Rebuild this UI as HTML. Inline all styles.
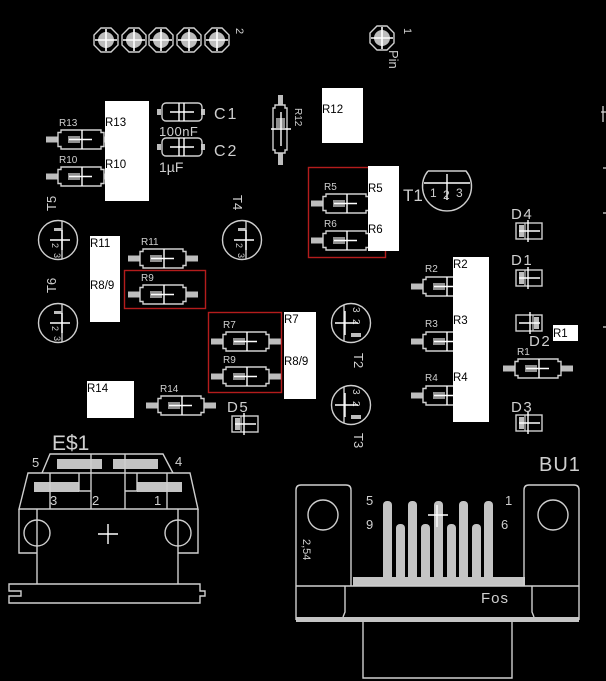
<!DOCTYPE html>
<html><head><meta charset="utf-8"><style>
html,body{margin:0;padding:0;background:#000;}
svg{display:block;}
text{font-family:"Liberation Sans",sans-serif;}
</style></head><body>
<svg width="606" height="681" viewBox="0 0 606 681" xmlns="http://www.w3.org/2000/svg">
<rect width="606" height="681" fill="#000"/>
<defs>
 <g id="res">
  <rect x="-12" y="6.5" width="12" height="6" fill="#bdbdbd"/>
  <rect x="46" y="6.5" width="12" height="6" fill="#bdbdbd"/>
  <path d="M0,2.5h3v-2.5h40v2.5h3v14h-3v2.5h-40v-2.5h-3z" fill="none" stroke="#cfcfcf" stroke-width="1.4"/>
  <rect x="10" y="6" width="12" height="7" fill="#8f8f8f"/>
  <line x1="11" y1="9.5" x2="34" y2="9.5" stroke="#fff" stroke-width="1.4"/>
  <line x1="24" y1="0" x2="24" y2="19" stroke="#fff" stroke-width="1.4"/>
 </g>
 <g id="diodeL">
  <rect x="0" y="0" width="26" height="16" fill="none" stroke="#cfcfcf" stroke-width="1.4"/>
  <rect x="3" y="2" width="5" height="12" fill="#bdbdbd"/>
  <line x1="9" y1="0" x2="9" y2="16" stroke="#cfcfcf" stroke-width="1.2"/>
  <line x1="3" y1="8" x2="24" y2="8" stroke="#fff" stroke-width="1.4"/>
  <line x1="12" y1="-3" x2="12" y2="19" stroke="#fff" stroke-width="1.4"/>
 </g>
 <g id="diodeR">
  <rect x="0" y="0" width="26" height="16" fill="none" stroke="#cfcfcf" stroke-width="1.4"/>
  <rect x="18" y="2" width="5" height="12" fill="#bdbdbd"/>
  <line x1="17" y1="0" x2="17" y2="16" stroke="#cfcfcf" stroke-width="1.2"/>
  <line x1="3" y1="8" x2="24" y2="8" stroke="#fff" stroke-width="1.4"/>
  <line x1="14" y1="-3" x2="14" y2="19" stroke="#fff" stroke-width="1.4"/>
 </g>
 <g id="trL">
  <circle cx="0" cy="0" r="19.5" fill="none" stroke="#cfcfcf" stroke-width="1.4"/>
  <line x1="4" y1="-19" x2="4" y2="19" stroke="#cfcfcf" stroke-width="1.4"/>
  <rect x="-4" y="-12" width="8" height="3" fill="#bdbdbd"/>
  <text x="-6" y="3" font-size="9" fill="#cfcfcf" transform="rotate(90 -6 3)">2</text>
  <text x="-4" y="13" font-size="9" fill="#cfcfcf" transform="rotate(90 -4 13)">3</text>
  <line x1="-8" y1="0" x2="12" y2="0" stroke="#fff" stroke-width="1.4"/>
  <line x1="4" y1="-10" x2="4" y2="10" stroke="#fff" stroke-width="1.4"/>
 </g>
 <g id="trR">
  <circle cx="0" cy="0" r="19.5" fill="none" stroke="#cfcfcf" stroke-width="1.4"/>
  <line x1="-7" y1="-18" x2="-7" y2="18" stroke="#cfcfcf" stroke-width="1.4"/>
  <text x="2" y="-16" font-size="10" fill="#cfcfcf" transform="rotate(90 2 -16)">3</text>
  <text x="2" y="-4" font-size="10" fill="#cfcfcf" transform="rotate(90 2 -4)">2</text>
  <rect x="0" y="10" width="10" height="4" fill="#bdbdbd"/>
  <line x1="-16" y1="0" x2="7" y2="0" stroke="#fff" stroke-width="1.4"/>
  <line x1="-6" y1="-12" x2="-6" y2="12" stroke="#fff" stroke-width="1.4"/>
 </g>
 <g id="pad">
  <polygon points="12,5 5,12 -5,12 -12,5 -12,-5 -5,-12 5,-12 12,-5" fill="none" stroke="#d0d0d0" stroke-width="1.4"/>
  <circle cx="0" cy="0" r="8" fill="#bdbdbd"/>
  <line x1="-11" y1="0" x2="11" y2="0" stroke="#fff" stroke-width="1.6"/>
  <line x1="0" y1="-11" x2="0" y2="11" stroke="#fff" stroke-width="1.6"/>
 </g>
 <g id="cap">
  <rect x="-5" y="-3" width="4" height="6" fill="#bdbdbd"/>
  <rect x="39" y="-3" width="4" height="6" fill="#bdbdbd"/>
  <rect x="0" y="-9" width="40" height="18" rx="4" fill="none" stroke="#cfcfcf" stroke-width="1.4"/>
  <line x1="8" y1="0" x2="32" y2="0" stroke="#fff" stroke-width="1.4"/>
  <line x1="17" y1="-9" x2="17" y2="9" stroke="#fff" stroke-width="1.4"/>
  <line x1="22" y1="-9" x2="22" y2="9" stroke="#fff" stroke-width="1.4"/>
 </g>
</defs>

<!-- top connector -->
<use href="#pad" x="106" y="40"/>
<use href="#pad" x="134" y="40"/>
<use href="#pad" x="161" y="40"/>
<use href="#pad" x="189" y="40"/>
<use href="#pad" x="217" y="40"/>
<text x="236" y="28" font-size="11" fill="#cfcfcf" transform="rotate(90 236 28)">2</text>

<!-- Pin 1 -->
<use href="#pad" x="382" y="38"/>
<text x="404" y="28" font-size="11" fill="#cfcfcf" transform="rotate(90 404 28)">1</text>
<text x="389" y="50" font-size="13" fill="#cfcfcf" transform="rotate(90 389 50)">Pin</text>

<!-- capacitors -->
<use href="#cap" x="162" y="112"/>
<use href="#cap" x="162" y="147"/>
<text x="214" y="119" font-size="16" fill="#cfcfcf" letter-spacing="2">C1</text>
<text x="214" y="156" font-size="16" fill="#cfcfcf" letter-spacing="2">C2</text>
<text x="159" y="136" font-size="13" fill="#cfcfcf" letter-spacing="0.5">100nF</text>
<text x="159" y="172" font-size="14" fill="#cfcfcf">1µF</text>

<!-- R12 vertical -->
<rect x="278" y="95" width="5" height="10" fill="#bdbdbd"/>
<rect x="278" y="153" width="5" height="12" fill="#bdbdbd"/>
<path d="M275,105h10v3h2v42h-2v3h-10v-3h-2v-42h2z" fill="none" stroke="#cfcfcf" stroke-width="1.4"/>
<rect x="276" y="118" width="9" height="10" fill="#8f8f8f"/>
<line x1="271" y1="129" x2="291" y2="129" stroke="#fff" stroke-width="1.4"/>
<line x1="281" y1="112" x2="281" y2="146" stroke="#fff" stroke-width="1.4"/>
<text x="295" y="108" font-size="10" fill="#cfcfcf" transform="rotate(90 295 108)">R12</text>

<!-- resistors -->
<use href="#res" x="58" y="130"/>
<use href="#res" x="58" y="167"/>
<use href="#res" x="140" y="249"/>
<use href="#res" x="140" y="285"/>
<use href="#res" x="223" y="332"/>
<use href="#res" x="223" y="367"/>
<use href="#res" x="158" y="396"/>
<use href="#res" x="323" y="194"/>
<use href="#res" x="323" y="231"/>
<use href="#res" x="423" y="277"/>
<use href="#res" x="423" y="332"/>
<use href="#res" x="423" y="386"/>
<use href="#res" x="515" y="359"/>

<g font-size="10" fill="#cfcfcf">
<text x="59" y="126">R13</text>
<text x="59" y="163">R10</text>
<text x="141" y="245">R11</text>
<text x="141" y="281">R9</text>
<text x="223" y="328">R7</text>
<text x="223" y="363">R9</text>
<text x="160" y="392">R14</text>
<text x="324" y="190">R5</text>
<text x="324" y="227">R6</text>
<text x="425" y="272">R2</text>
<text x="425" y="327">R3</text>
<text x="425" y="381">R4</text>
<text x="517" y="355">R1</text>
</g>

<!-- transistors -->
<use href="#trL" x="58" y="240"/>
<use href="#trL" x="58" y="323"/>
<use href="#trL" x="242" y="240"/>
<use href="#trR" x="351" y="323"/>
<use href="#trR" x="351" y="405"/>
<text x="56" y="211" font-size="13" fill="#cfcfcf" transform="rotate(-90 56 211)">T5</text>
<text x="56" y="293" font-size="13" fill="#cfcfcf" transform="rotate(-90 56 293)">T6</text>
<text x="233" y="195" font-size="13" fill="#cfcfcf" transform="rotate(90 233 195)">T4</text>
<text x="354" y="353" font-size="13" fill="#cfcfcf" transform="rotate(90 354 353)">T2</text>
<text x="354" y="433" font-size="13" fill="#cfcfcf" transform="rotate(90 354 433)">T3</text>

<!-- T1 -->
<path d="M428,171 L466,171 A24.5,24.5 0 1 1 428,171" fill="none" stroke="#cfcfcf" stroke-width="1.4"/>
<line x1="424" y1="183" x2="470" y2="183" stroke="#fff" stroke-width="1.4"/>
<line x1="447" y1="174" x2="447" y2="200" stroke="#fff" stroke-width="1.4"/>
<text x="430" y="197" font-size="12" fill="#cfcfcf">1</text>
<text x="443" y="199" font-size="12" fill="#cfcfcf">2</text>
<text x="456" y="197" font-size="12" fill="#cfcfcf">3</text>
<text x="403" y="201" font-size="17" fill="#cfcfcf">T1</text>

<!-- diodes -->
<use href="#diodeL" x="516" y="223"/>
<use href="#diodeL" x="516" y="270"/>
<use href="#diodeR" x="516" y="315"/>
<use href="#diodeL" x="516" y="415"/>
<use href="#diodeL" x="232" y="416"/>
<g font-size="15" fill="#cfcfcf" letter-spacing="1.5">
<text x="511" y="219">D4</text>
<text x="511" y="265">D1</text>
<text x="529" y="346">D2</text>
<text x="511" y="412">D3</text>
<text x="227" y="412">D5</text>
</g>

<!-- red boxes -->
<g fill="none" stroke="#b41c1c" stroke-width="1.4">
<rect x="308.5" y="167.5" width="77" height="90"/>
<rect x="124.5" y="270.5" width="81" height="38"/>
<rect x="208.5" y="312.5" width="73" height="80"/>
</g>

<!-- white label boxes -->
<g fill="#fff">
<rect x="105" y="101" width="44" height="100"/>
<rect x="322" y="88" width="41" height="55"/>
<rect x="368" y="166" width="31" height="85"/>
<rect x="90" y="236" width="30" height="86"/>
<rect x="284" y="312" width="32" height="87"/>
<rect x="87" y="381" width="47" height="37"/>
<rect x="453" y="257" width="36" height="165"/>
<rect x="553" y="325" width="25" height="16"/>
</g>
<g font-size="11.5" fill="#000">
<text x="105" y="126">R13</text>
<text x="105" y="168">R10</text>
<text x="322" y="113">R12</text>
<text x="368" y="192">R5</text>
<text x="368" y="233">R6</text>
<text x="90" y="247">R11</text>
<text x="90" y="289">R8/9</text>
<text x="284" y="323">R7</text>
<text x="284" y="365">R8/9</text>
<text x="87" y="392">R14</text>
<text x="453" y="268">R2</text>
<text x="453" y="324">R3</text>
<text x="453" y="381">R4</text>
<text x="553" y="337">R1</text>
</g>

<!-- right edge marks -->
<g stroke="#cfcfcf" stroke-width="1.3">
<line x1="601" y1="112" x2="606" y2="112"/>
<line x1="603" y1="106" x2="603" y2="122"/>
<line x1="603" y1="168" x2="606" y2="168"/>
<line x1="603" y1="213" x2="606" y2="213"/>
<line x1="603" y1="327" x2="606" y2="327"/>
</g>

<!-- E$1 -->
<text x="52" y="450" font-size="21" fill="#cfcfcf">E$1</text>
<g fill="#c4c4c4">
<rect x="57" y="459" width="45" height="10"/>
<rect x="113" y="459" width="45" height="10"/>
<rect x="34" y="482" width="45" height="10"/>
<rect x="137" y="482" width="45" height="10"/>
</g>
<g fill="none" stroke="#cfcfcf" stroke-width="1.4">
<path d="M42,473 L50,454 L163,454 L173,473"/>
<path d="M19,509 L28,473 L190,473 L198,509 Z"/>
<line x1="50" y1="473" x2="50" y2="509"/>
<line x1="91" y1="454" x2="91" y2="509"/>
<line x1="125" y1="454" x2="125" y2="509"/>
<line x1="167" y1="473" x2="167" y2="509"/>
<path d="M79,473 V491 H91"/>
<path d="M137,473 V491 H125"/>
<path d="M37,509 V584 M178,509 V584"/>
<path d="M19,509 V553 H37 M198,509 V553 H178"/>
<circle cx="37" cy="533" r="13"/>
<circle cx="178" cy="533" r="13"/>
<path d="M9,584 H200 V591 H205 V596 H200 V603 H9 V596 H21 V591 H9 Z"/>
</g>
<g stroke="#fff" stroke-width="1.4">
<line x1="98" y1="534" x2="118" y2="534"/>
<line x1="108" y1="524" x2="108" y2="544"/>
</g>
<g font-size="13" fill="#cfcfcf">
<text x="32" y="467">5</text>
<text x="175" y="466">4</text>
<text x="50" y="505">3</text>
<text x="92" y="505">2</text>
<text x="154" y="505">1</text>
</g>

<!-- BU1 -->
<text x="539" y="471" font-size="20" fill="#cfcfcf" letter-spacing="1">BU1</text>
<g fill="#c4c4c4">
<rect x="353" y="577" width="172" height="9"/>
<rect x="383" y="501" width="9" height="80" rx="4"/>
<rect x="408" y="501" width="9" height="80" rx="4"/>
<rect x="434" y="501" width="9" height="80" rx="4"/>
<rect x="459" y="501" width="9" height="80" rx="4"/>
<rect x="484" y="501" width="9" height="80" rx="4"/>
<rect x="396" y="524" width="9" height="57" rx="4"/>
<rect x="421" y="524" width="9" height="57" rx="4"/>
<rect x="447" y="524" width="9" height="57" rx="4"/>
<rect x="472" y="524" width="9" height="57" rx="4"/>
<rect x="296" y="617" width="283" height="5"/>
</g>
<g fill="none" stroke="#cfcfcf" stroke-width="1.4">
<path d="M296,620 V490 Q296,485 301,485 H346 Q351,485 351,490 V586"/>
<path d="M579,620 V490 Q579,485 574,485 H529 Q524,485 524,490 V586"/>
<line x1="296" y1="586" x2="579" y2="586"/>
<path d="M345,586 V612 L343,617"/>
<path d="M532,586 V612 L534,617"/>
<path d="M363,622 V678 H512 V622"/>
<circle cx="323" cy="515" r="15"/>
<circle cx="553" cy="515" r="15"/>
</g>
<g stroke="#fff" stroke-width="1.4">
<line x1="428" y1="515" x2="448" y2="515"/>
<line x1="437" y1="505" x2="437" y2="527"/>
</g>
<g font-size="13" fill="#cfcfcf">
<text x="366" y="505">5</text>
<text x="366" y="529">9</text>
<text x="505" y="505">1</text>
<text x="501" y="529">6</text>
<text x="481" y="603" font-size="15" letter-spacing="1">Fos</text>
</g>
<text x="303" y="539" font-size="11" fill="#cfcfcf" transform="rotate(90 303 539)">2,54</text>
</svg>
</body></html>
